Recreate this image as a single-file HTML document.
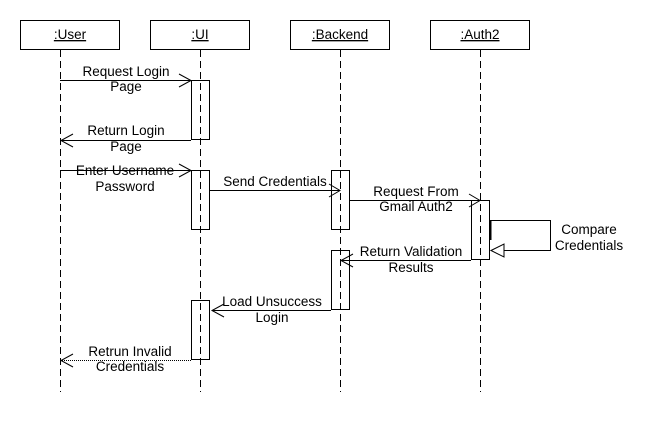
<!DOCTYPE html>
<html><head><meta charset="utf-8"><style>
html,body{margin:0;padding:0;background:#fff;width:660px;height:430px;overflow:hidden}
svg text{font-family:"Liberation Sans",Arial,sans-serif;font-size:13.5px;fill:#000}
</style></head><body>
<svg width="660" height="430" xmlns="http://www.w3.org/2000/svg">
<g fill="#fff" stroke="#000" stroke-width="1">
<rect x="20.5" y="20.5" width="99" height="29"/>
<rect x="150.5" y="20.5" width="99" height="29"/>
<rect x="290.5" y="20.5" width="99" height="29"/>
<rect x="430.5" y="20.5" width="99" height="29"/>
</g>
<g text-anchor="middle">
<text x="70" y="39" text-decoration="underline">:User</text>
<text x="200" y="39" text-decoration="underline">:UI</text>
<text x="340" y="39" text-decoration="underline">:Backend</text>
<text x="480" y="39" text-decoration="underline">:Auth2</text>
</g>
<g stroke="#000" stroke-dasharray="7,4" fill="none">
<line x1="60.5" y1="50" x2="60.5" y2="392"/>
<line x1="200.5" y1="50" x2="200.5" y2="392"/>
<line x1="340.5" y1="50" x2="340.5" y2="392"/>
<line x1="480.5" y1="50" x2="480.5" y2="392"/>
</g>
<g fill="none" stroke="#000">
<rect x="191.5" y="80.5" width="18" height="59"/>
<rect x="191.5" y="170.5" width="18" height="59"/>
<rect x="191.5" y="300.5" width="18" height="59"/>
<rect x="331.5" y="170.5" width="18" height="59"/>
<rect x="331.5" y="250.5" width="18" height="59"/>
<rect x="471.5" y="200.5" width="18" height="59"/>
<line x1="60" y1="80.5" x2="191" y2="80.5"/><polyline points="179,74 191,80.5 179,87"/>
<line x1="191" y1="140.5" x2="61" y2="140.5"/><polyline points="73,134 61,140.5 73,147"/>
<line x1="60" y1="170.5" x2="191" y2="170.5"/><polyline points="179,164 191,170.5 179,177"/>
<line x1="209" y1="190.5" x2="340" y2="190.5"/><polyline points="329,184 340,190.5 329,197"/>
<line x1="349" y1="200.5" x2="480" y2="200.5"/><polyline points="469,194 480,200.5 469,207"/>
<polyline points="490,220.5 550.5,220.5 550.5,250.5 504,250.5"/>
<line x1="490.5" y1="220" x2="490.5" y2="240" stroke-width="2"/>
<polygon points="491,250.5 504,244 504,257" fill="#fff"/>
<line x1="471" y1="260.5" x2="341" y2="260.5"/><polyline points="353,254 341,260.5 353,267"/>
<line x1="331" y1="310.5" x2="212" y2="310.5"/><polyline points="224,304 212,310.5 224,317"/>
<line x1="191" y1="360.5" x2="61" y2="360.5" stroke-dasharray="1,1"/><polyline points="73,354 61,360.5 73,367"/>
</g>
<g text-anchor="middle">
<text x="126" y="76">Request Login</text><text x="126" y="91">Page</text>
<text x="126" y="135">Return Login</text><text x="126" y="151">Page</text>
<text x="125" y="175">Enter Username</text><text x="125" y="191">Password</text>
<text x="275" y="186">Send Credentials</text>
<text x="416" y="196">Request From</text><text x="416" y="211">Gmail Auth2</text>
<text x="589" y="234">Compare</text><text x="589" y="250">Credentials</text>
<text x="411" y="256">Return Validation</text><text x="411" y="272">Results</text>
<text x="272" y="306">Load Unsuccess</text><text x="272" y="322">Login</text>
<text x="130" y="356">Retrun Invalid</text><text x="130" y="371">Credentials</text>
</g>
</svg>
</body></html>
